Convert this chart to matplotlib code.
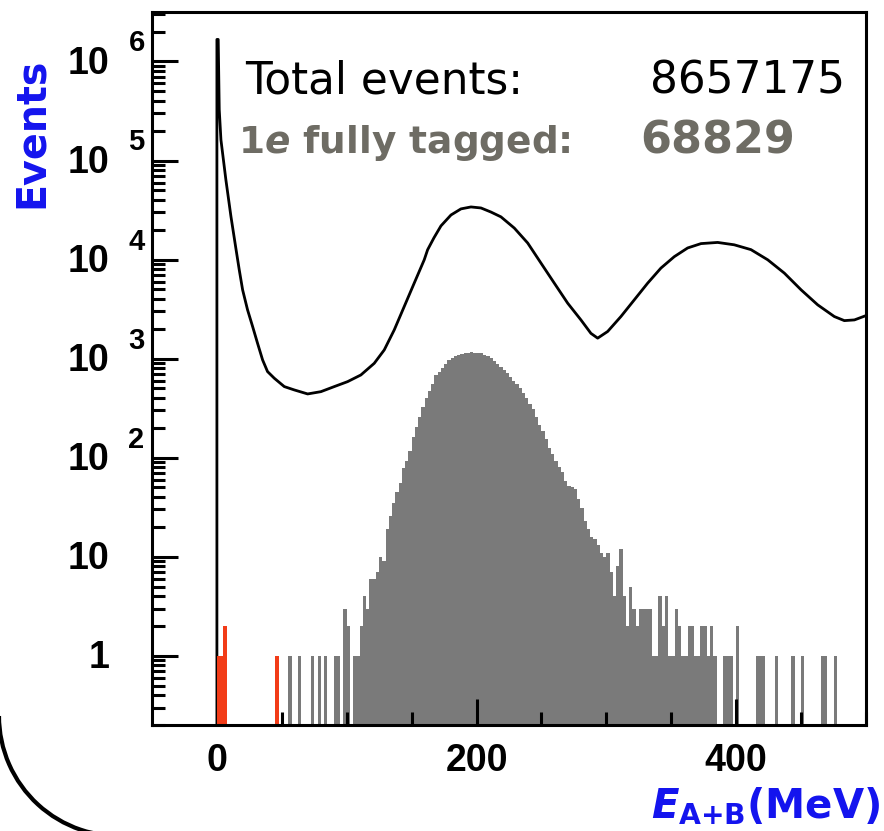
import matplotlib
matplotlib.use("Agg")
import matplotlib.pyplot as plt
from matplotlib.patches import Arc
from matplotlib.ticker import LogLocator, NullFormatter, FixedLocator
import numpy as np

plt.rcParams['mathtext.fontset'] = 'custom'
plt.rcParams['mathtext.bf'] = 'DejaVu Sans:bold'
plt.rcParams['mathtext.it'] = 'DejaVu Sans:bold:italic'
plt.rcParams['mathtext.rm'] = 'DejaVu Sans:bold'

# ---- data ----
bin_w = 2.5

# 1e fully tagged (gray), sparse low-energy bins
low_x = [55, 62.5, 72.5, 77.5, 82.5, 90, 92.5, 97.5, 100]
low_n = [1, 1, 1, 1, 1, 1, 1, 3, 2]

# contiguous body, bins starting at 105 MeV
body_start = 105
body_n = [
    1, 1, 2, 4, 3, 6, 6, 7,
    10, 9, 19, 26, 35, 45, 55, 78,
    93, 117, 161, 202, 255, 322, 405, 475,
    555, 680, 740, 800, 880, 960, 1020, 1060,
    1100, 1120, 1140, 1150, 1155, 1150, 1145, 1135,
    1100, 1060, 1010, 950, 890, 830, 770, 710,
    660, 600, 550, 500, 455, 400, 350, 310,
    260, 215, 185, 155, 125, 108, 92, 80,
    72, 58, 52, 50, 48, 38, 31, 23,
    19, 16, 15, 13, 11, 10, 11, 7,
    4, 8, 12, 4, 2, 5, 3, 2,
    3, 3, 3, 3, 1, 1, 4, 2,
    4, 1, 1, 3, 2, 1, 1, 2,
    2, 1, 1, 2, 2, 1, 2, 1,
    0, 0, 1, 1, 1, 0, 2,
]

tail_x = [415, 417.5, 420, 430, 442.5, 450, 465, 467.5, 475]
tail_n = [1, 1, 1, 1, 1, 1, 1, 1, 1]

# red histogram
red_x = [0, 2.5, 5, 45]
red_n = [1, 1, 2, 1]

# total events (black line)
black_x = [0, 0, 1, 1.8, 3.1, 6.9, 10.8, 14.6, 17.2, 19.8, 23.6, 27.5, 31.3,
           35.2, 39.0, 44.2, 51.9, 59.6, 69.9, 80.1, 90.4, 100.7, 110.9, 121.2,
           128.9, 136.6, 144.3, 152, 159.7, 162.3, 167.2, 172.6, 180.3, 188,
           195.7, 203.4, 211.1, 218.8, 229.1, 239.4, 249.6, 259.9, 270.2, 280.4,
           288.1, 293.3, 301, 311.2, 321.5, 331.8, 342, 352.3, 362.6, 372.9,
           385.7, 398.5, 411.4, 424.3, 437.1, 450, 462.8, 475.6, 483.3, 491.1, 500]
black_y = [0.1, 1.67e6, 1.67e6, 3.27e5, 1.62e5, 6.41e4, 2.73e4, 1.3e4, 7890, 4950,
           3110, 2110, 1430, 970, 740, 634, 522, 483, 440, 464, 522, 586, 684, 897,
           1224, 1950, 3360, 5790, 9950, 12560, 16600, 21900, 28200, 32500,
           34000, 33200, 30200, 27000, 20800, 14700, 9230, 5780, 3630, 2460,
           1800, 1610, 1880, 2660, 3920, 5780, 8200, 10700, 13100, 14500,
           14900, 14100, 12600, 9950, 7300, 4950, 3490, 2660, 2420, 2460, 2720]

total_events = "8657175"
tagged_events = "68829"

# ---- build histograms on a common 2.5 MeV grid ----
edges = np.arange(0, 500 + bin_w, bin_w)
gray = np.zeros(len(edges) - 1)
for x, n in zip(low_x, low_n):
    gray[int(round(x / bin_w))] = n
for i, n in enumerate(body_n):
    gray[int(round(body_start / bin_w)) + i] = n
for x, n in zip(tail_x, tail_n):
    gray[int(round(x / bin_w))] = n
red = np.zeros(len(edges) - 1)
for x, n in zip(red_x, red_n):
    red[int(round(x / bin_w))] = n

# ---- figure ----
fig = plt.figure(figsize=(8.84, 8.31), dpi=100)
ax = fig.add_axes([152 / 884, 1 - 725 / 831, 714 / 884, 713 / 831])

ax.stairs(gray, edges, fill=True, color='#7a7a7a', baseline=1e-3, zorder=1)
ax.plot(black_x, black_y, color='black', lw=2.0, zorder=2)
ax.stairs(red, edges, fill=True, color='#f23c18', baseline=1e-3, zorder=2.2)

ax.set_yscale('log')
ax.set_xlim(-50, 500)
ax.set_ylim(0.2, 3.16e6)

for s in ax.spines.values():
    s.set_linewidth(2.2)

ax.xaxis.set_major_locator(FixedLocator([0, 200, 400]))
ax.xaxis.set_minor_locator(FixedLocator([50, 100, 150, 250, 300, 350, 450, 500]))
ax.yaxis.set_major_locator(FixedLocator([10.0 ** k for k in range(7)]))
ax.yaxis.set_minor_locator(LogLocator(base=10, subs=np.arange(2, 10), numticks=20))
ax.yaxis.set_major_formatter(NullFormatter())
ax.yaxis.set_minor_formatter(NullFormatter())

ax.tick_params(which='major', direction='in', length=19, width=2.2,
               top=False, right=False)
ax.tick_params(which='minor', direction='in', length=9.5, width=2.2,
               top=False, right=False)
ax.tick_params(axis='x', which='major', pad=13)
ax.set_xticklabels(['0', '200', '400'], fontsize=27, fontweight='bold',
                   family='Liberation Sans')

# y labels in ROOT style: 10 with raised exponent
for k in range(7):
    if k >= 2:
        ax.annotate('10', xy=(-0.059, 10.0 ** k), xycoords=('axes fraction', 'data'),
                    xytext=(0, -1.5), textcoords='offset points', ha='right', va='center',
                    fontsize=27, fontweight='bold', family='Liberation Sans')
        ax.annotate(str(k), xy=(-0.033, 10.0 ** k), xycoords=('axes fraction', 'data'),
                    xytext=(0, 13), textcoords='offset points', ha='left', va='center',
                    fontsize=21, fontweight='bold', family='Liberation Sans')
    else:
        ax.annotate('10' if k == 1 else '1', xy=(-0.059, 10.0 ** k),
                    xycoords=('axes fraction', 'data'),
                    xytext=(0, -1.5), textcoords='offset points', ha='right', va='center',
                    fontsize=27, fontweight='bold', family='Liberation Sans')

# texts
fig.text(245 / 884, 1 - 93 / 831, 'Total events:', fontsize=31.5, color='black',
         va='baseline', ha='left')
fig.text(845 / 884, 1 - 93 / 831, total_events, fontsize=31.5, color='black',
         va='baseline', ha='right')
fig.text(238 / 884, 1 - 153 / 831, r'1$\mathit{e}$ fully tagged:', fontsize=27,
         fontweight='bold', color='#6e6c64', va='baseline', ha='left')
fig.text(640 / 884, 1 - 153 / 831, tagged_events, fontsize=32, fontweight='bold',
         color='#6e6c64', va='baseline', ha='left')

fig.text(32 / 884, 1 - 133 / 831, 'Events', rotation=90, fontsize=28.5,
         fontweight='bold', color='#1414ee', ha='center', va='center')
fig.text(880 / 884, 1 - 818 / 831, r'$\mathit{E}_{\mathbf{A{+}B}}\mathbf{(MeV)}$',
         fontsize=29, color='#1414ee', ha='right', va='baseline')

# decorative rounded corner in the lower-left
arc = Arc((1.19, (831 - 716) / 100), 2.4, 2.4, theta1=180, theta2=275,
          transform=fig.dpi_scale_trans, color='black', lw=3.0)
fig.add_artist(arc)

fig.savefig('out.png', dpi=100)
